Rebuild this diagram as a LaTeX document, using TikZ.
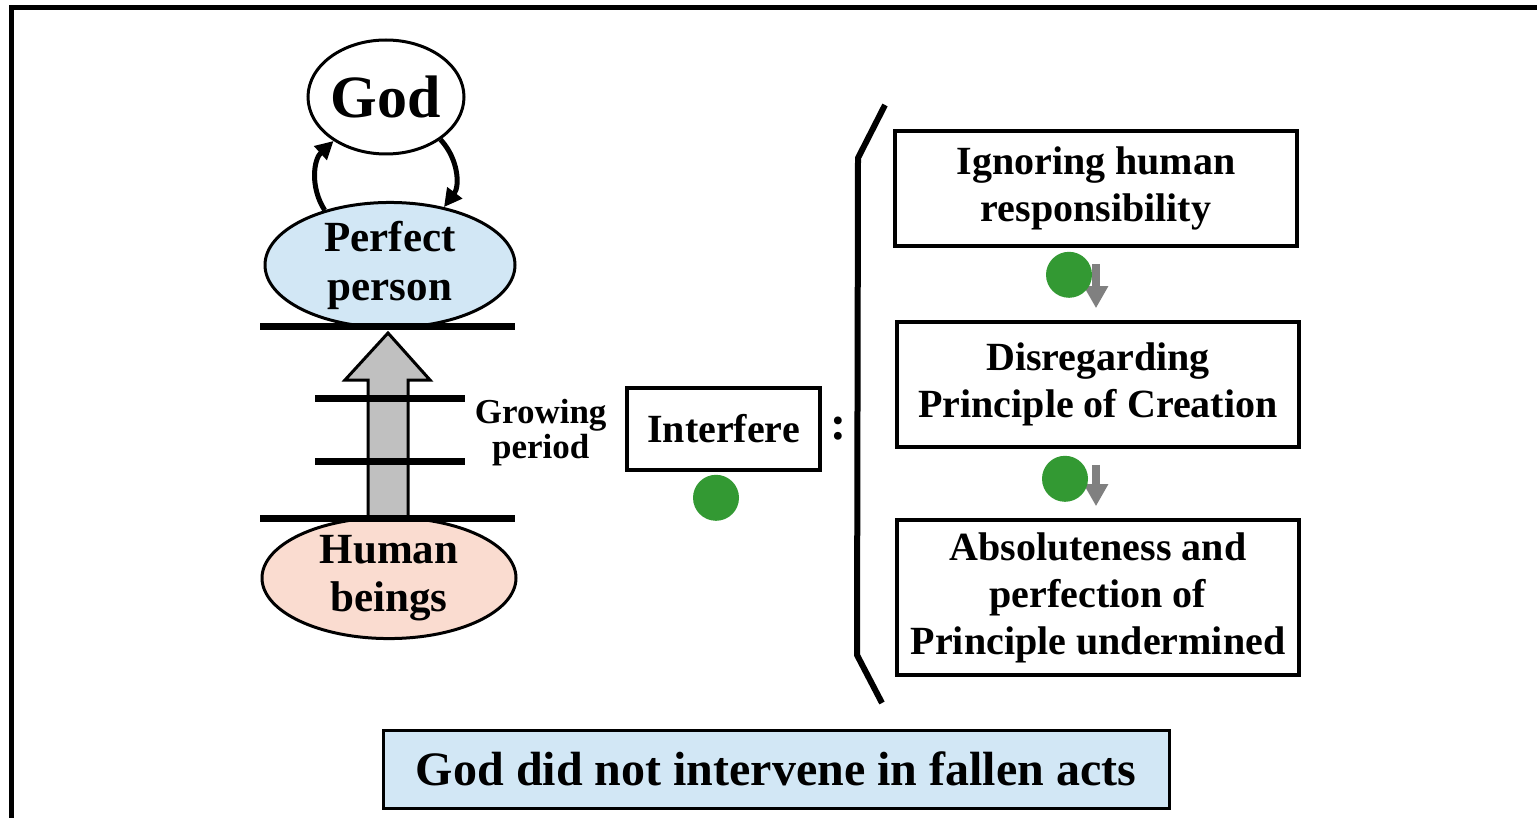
\documentclass[tikz,border=0pt]{standalone}
\usepackage{fontspec}
\setmainfont{Liberation Serif}
\usetikzlibrary{arrows.meta,shapes.geometric,positioning}
\tikzset{every picture/.style={line width=0.75pt}}
\definecolor{skyfill}{HTML}{D2E7F5}
\definecolor{peachfill}{HTML}{FADCD0}
\definecolor{dotgreen}{HTML}{339933}
\definecolor{arrowgray}{HTML}{808080}
\definecolor{blockgray}{HTML}{C0C0C0}

\begin{document}
\begin{tikzpicture}[x=0.5pt,y=-0.5pt,
    oval/.style={ellipse,draw,line width=1.5pt,inner sep=0pt,align=center},
    stepbox/.style={draw,line width=1.8pt,inner sep=0pt,align=center,minimum width=201pt,
      font=\fontsize{20}{23.5}\selectfont\bfseries},
    rung/.style={line width=3.5pt},
    cyc/.style={line width=2.5pt,-{Triangle[length=9pt,width=9pt]}},
    down/.style={arrowgray,line width=4pt,-{Triangle[length=11pt,width=11.5pt]}},
    marker/.style={circle,fill=dotgreen,inner sep=0pt,minimum size=23pt}]
    \useasboundingbox (0,0) rectangle (1537,818);
    % frame
    \draw[line width=2.75pt] (11.5,818) -- (11.5,7.5) -- (1537,7.5);

    % God and the two stages
    \node[oval,minimum width=78pt,minimum height=57pt,
      font=\fontsize{30}{30}\selectfont\bfseries] (god) at (386,97) {God};
    \node[oval,fill=skyfill,minimum width=125pt,minimum height=57pt,
      font=\fontsize{21.5}{24.5}\selectfont\bfseries] (perfect) at (390,265) {Perfect\\person};
    \node[oval,fill=peachfill,minimum width=127pt,minimum height=58pt,
      font=\fontsize{21.5}{24}\selectfont\bfseries] (human) at (389,578) {Human\\beings};
    \draw[cyc] (perfect.140) to[bend left=40] (god.220);
    \draw[cyc] (god.322) to[bend left=40] (perfect.47);

    % growing period ladder
    \draw[fill=blockgray,line width=1.5pt] (368,518) -- (368,380) -- (345,380) -- (388,333)
      -- (430,380) -- (408,380) -- (408,518);
    \draw[rung] (260,327) -- (515,327);
    \draw[rung] (315,398) -- (465,398);
    \draw[rung] (315,461) -- (465,461);
    \draw[rung] (260,518) -- (515,518);

    % interfere
    \node[draw,line width=1.8pt,minimum width=96.5pt,minimum height=41pt,inner sep=0pt,
      font=\fontsize{20}{20}\selectfont\bfseries] (interfere) at (723.5,429) {Interfere};
    \node[left=9pt of interfere,yshift=-2pt,inner sep=0pt,align=center,
      font=\fontsize{17.5}{17.5}\selectfont\bfseries] (growing) {Growing\\period};
    \node[right=4pt of interfere,inner sep=0pt,
      font=\fontsize{24}{24}\selectfont\bfseries] (colon) {:};
    \node[marker] (dot0) at ([xshift=-3.75pt,yshift=-13pt]interfere.south) {};

    % bracket
    \draw[line width=3pt] (885,105) -- (858,158) -- (857,655) -- (882,703);

    % consequences
    \node[stepbox,minimum height=57.5pt] (r1) at (1096,188.5) {Ignoring human\\responsibility};
    \node[stepbox,minimum height=62.5pt] (r2) at (1098,384.5) {Disregarding\\Principle of Creation};
    \node[stepbox,minimum height=77.5pt] (r3) at (1098,597.5) {Absoluteness and\\perfection of\\Principle undermined};
    \draw[down] ([yshift=-8pt]r1.south) -- ([yshift=6pt]r1.south |- r2.north);
    \draw[down] ([yshift=-8pt]r1.south |- r2.south) -- ([yshift=6pt]r1.south |- r3.north);
    \node[marker] (dot1) at ([xshift=-13.5pt,yshift=-13.5pt]r1.south) {};
    \node[marker] (dot2) at ([xshift=-16.5pt,yshift=-15pt]r2.south) {};

    % conclusion
    \node[draw,fill=skyfill,line width=1.5pt,minimum width=393pt,minimum height=39pt,inner sep=0pt,
      font=\fontsize{24}{24}\selectfont\bfseries] (result) at (776,769) {God did not intervene in fallen acts};
\end{tikzpicture}
\end{document}
